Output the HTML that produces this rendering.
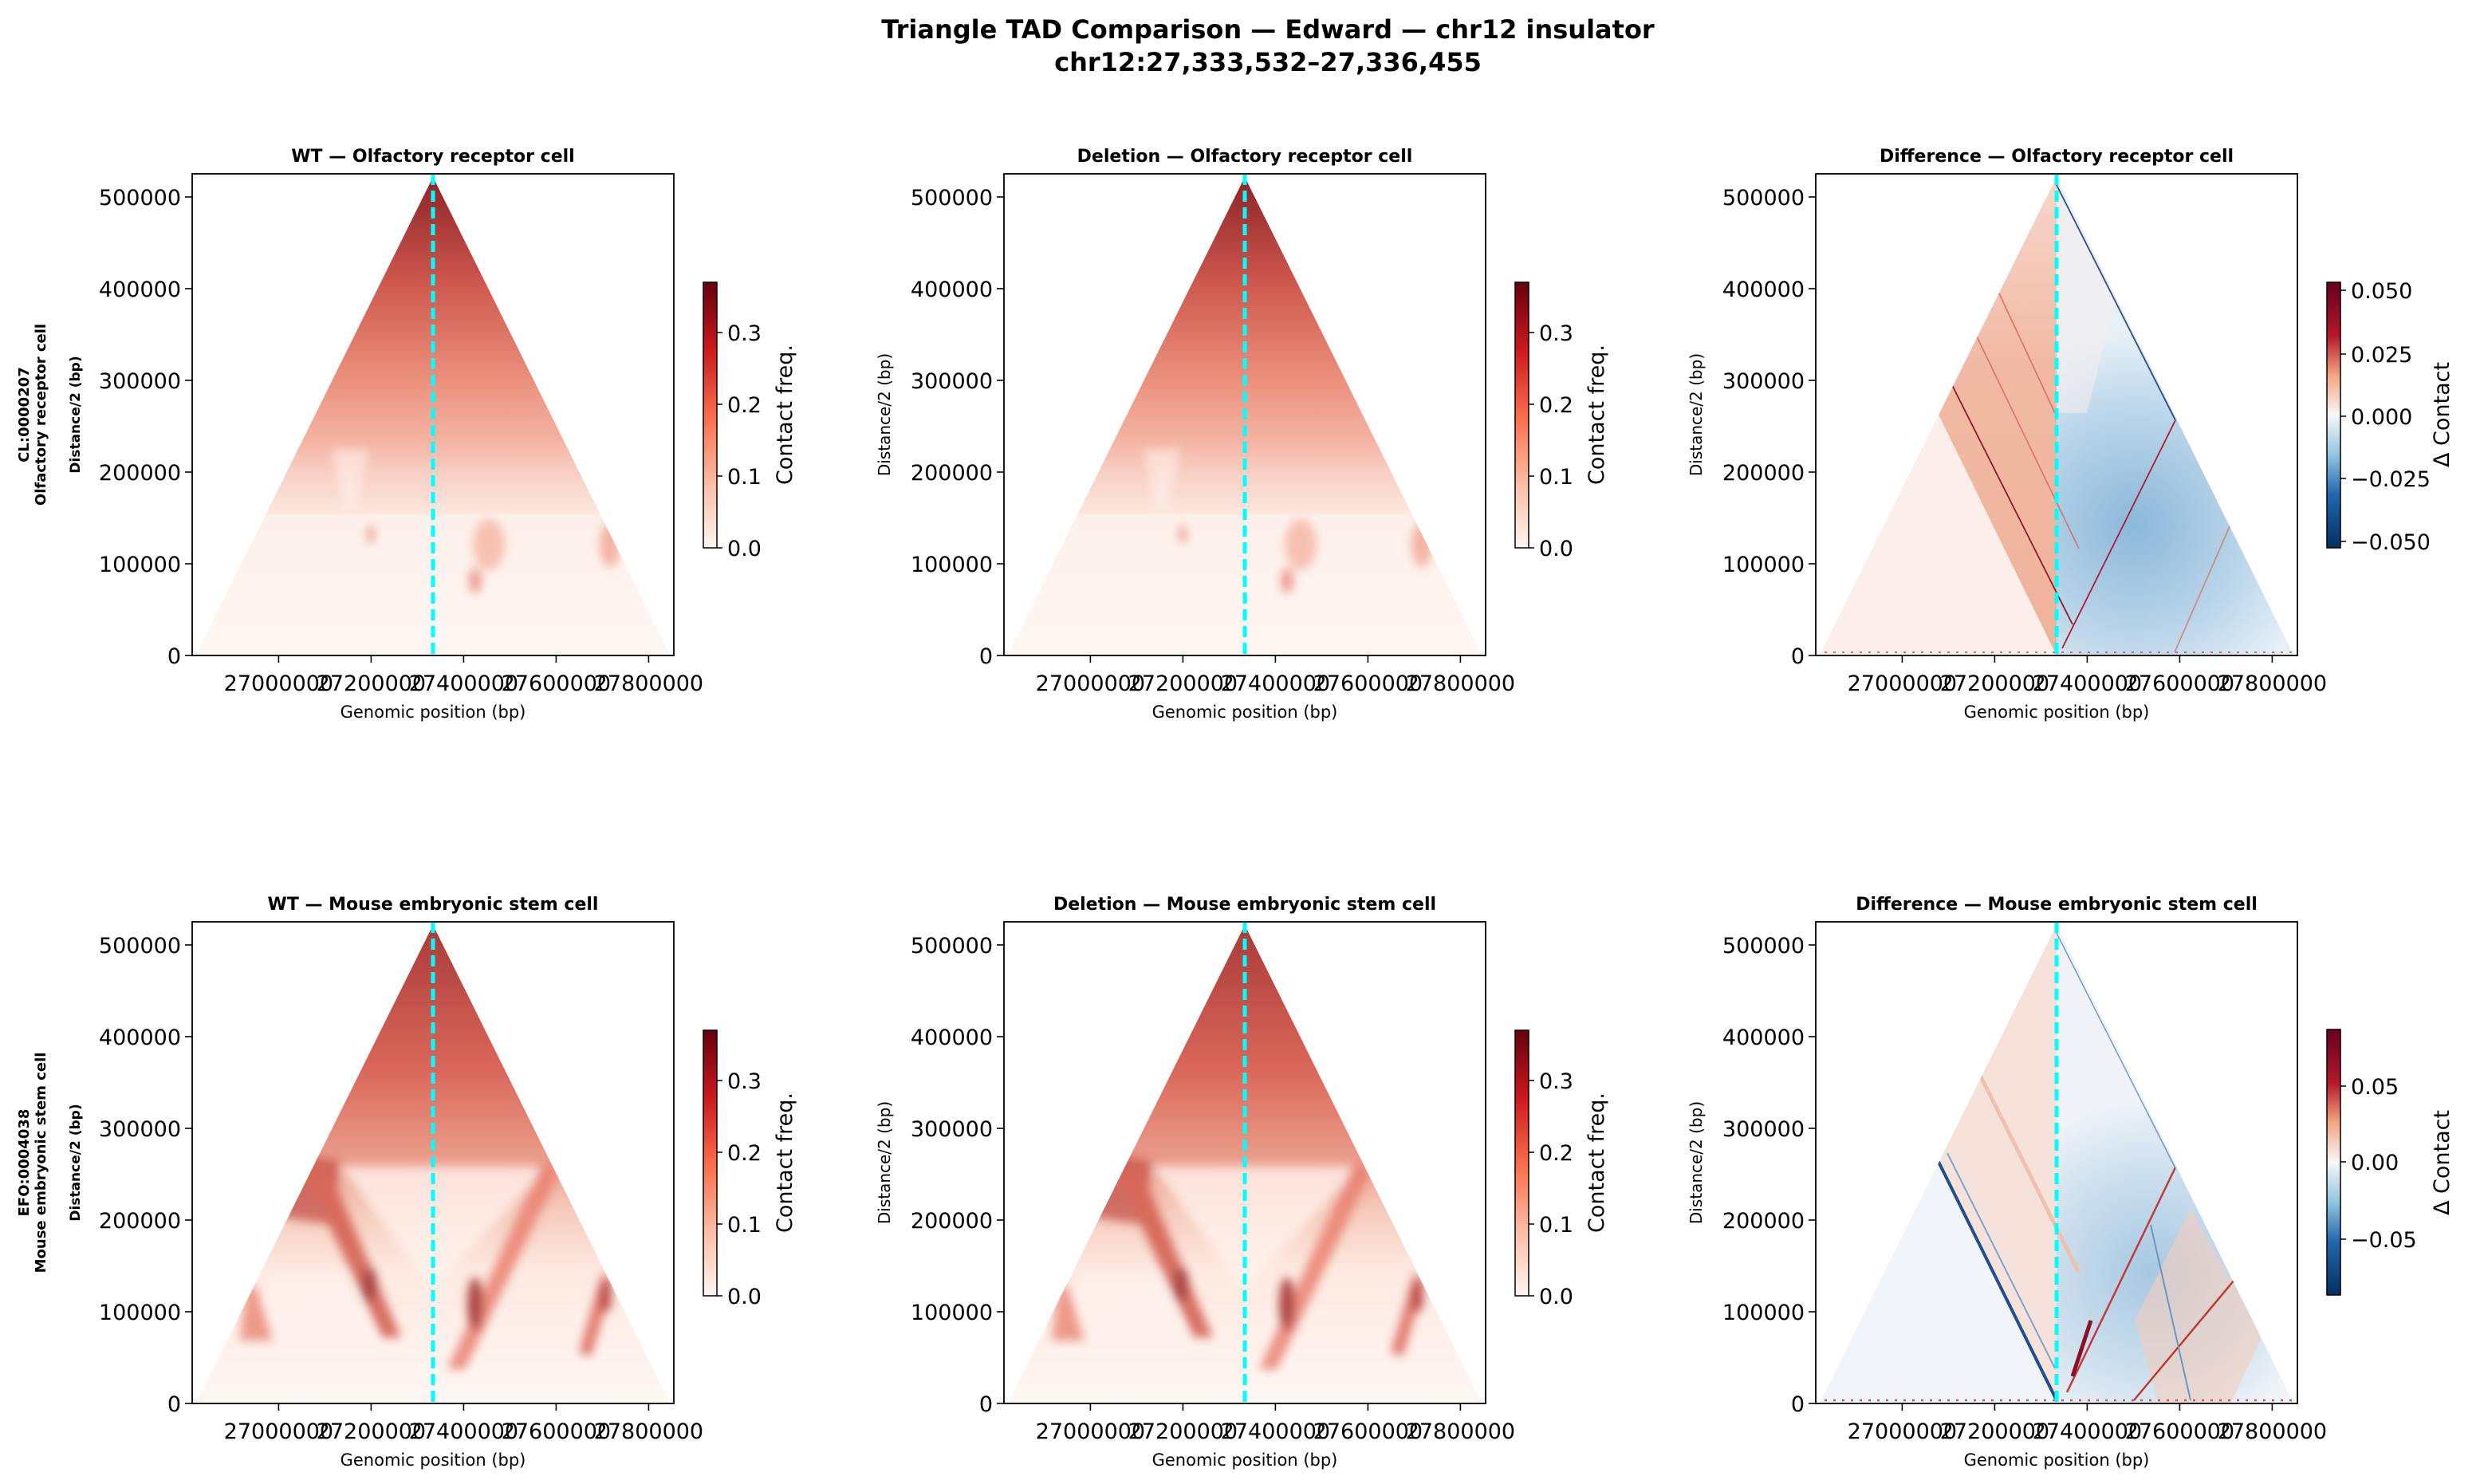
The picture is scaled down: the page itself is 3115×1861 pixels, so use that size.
<!DOCTYPE html>
<html><head><meta charset="utf-8"><style>
html,body{margin:0;padding:0;background:#fff}
svg{display:block}
text{font-family:"DejaVu Sans","Liberation Sans",sans-serif;fill:#000}
.tk{font-size:27px}
.ttl{font-size:22px;font-weight:bold}
.xl{font-size:21px}
.rl{font-size:18px;font-weight:bold}
</style></head><body>
<svg width="3115" height="1861" viewBox="0 0 3115 1861" xmlns="http://www.w3.org/2000/svg">
<defs>
<clipPath id="tri"><path d="M4.5,604 L302,4 L599.5,604 Z"/></clipPath>
<linearGradient id="gO" x1="0" y1="0" x2="0" y2="1">
<stop offset="0" stop-color="#8e2226"/><stop offset="0.23" stop-color="#cf5a50"/>
<stop offset="0.42" stop-color="#eb8f7c"/><stop offset="0.55" stop-color="#f4b3a2"/>
<stop offset="0.617" stop-color="#f8cfc3"/><stop offset="0.70" stop-color="#fce6de"/>
<stop offset="0.71" stop-color="#fdf0ea"/><stop offset="1" stop-color="#fef7f4"/>
</linearGradient>
<linearGradient id="gM" x1="0" y1="0" x2="0" y2="1">
<stop offset="0" stop-color="#a83a38"/><stop offset="0.3" stop-color="#d9675a"/>
<stop offset="0.48" stop-color="#ea9a88"/><stop offset="0.6" stop-color="#f6cbbd"/>
<stop offset="0.72" stop-color="#fde9e1"/><stop offset="1" stop-color="#fef7f4"/>
</linearGradient>
<linearGradient id="gReds" x1="0" y1="1" x2="0" y2="0">
<stop offset="0" stop-color="#fff5f0"/><stop offset="0.25" stop-color="#fcbba1"/>
<stop offset="0.5" stop-color="#fb6a4a"/><stop offset="0.75" stop-color="#cb181d"/>
<stop offset="1" stop-color="#67000d"/>
</linearGradient>
<linearGradient id="gRdBu" x1="0" y1="1" x2="0" y2="0">
<stop offset="0" stop-color="#053061"/><stop offset="0.2" stop-color="#2166ac"/>
<stop offset="0.35" stop-color="#92c5de"/><stop offset="0.5" stop-color="#f7f7f7"/>
<stop offset="0.65" stop-color="#f4a582"/><stop offset="0.8" stop-color="#b2182b"/>
<stop offset="1" stop-color="#67001f"/>
</linearGradient>
<radialGradient id="gBlue1" cx="400" cy="440" r="240" gradientUnits="userSpaceOnUse">
<stop offset="0" stop-color="#8cb8da"/><stop offset="0.6" stop-color="#bcd6ea"/><stop offset="1" stop-color="#e8f0f6"/>
</radialGradient>
<radialGradient id="gBlue2" cx="420" cy="440" r="220" gradientUnits="userSpaceOnUse">
<stop offset="0" stop-color="#a7c8e2"/><stop offset="0.6" stop-color="#cfe0ee"/><stop offset="1" stop-color="#f0f4f8"/>
</radialGradient>
<linearGradient id="gRedD" x1="0" y1="0" x2="0" y2="1">
<stop offset="0" stop-color="#f6d7cb"/><stop offset="0.4" stop-color="#f1b9a3"/><stop offset="1" stop-color="#f0b39c"/>
</linearGradient>
<filter id="bl"><feGaussianBlur stdDeviation="6"/></filter>

<g id="olf">
<g clip-path="url(#tri)">
<rect x="0" y="4" width="604" height="600" fill="url(#gO)"/>
<g filter="url(#bl)" opacity="0.7">
<polygon points="175,345 222,345 205,420 190,420" fill="#fff3ee" opacity="0.8"/>
<ellipse cx="224" cy="452" rx="4" ry="12" fill="#e06a58"/>
<ellipse cx="372" cy="465" rx="20" ry="32" fill="#f4ac99"/>
<ellipse cx="355" cy="510" rx="8" ry="16" fill="#e8786a"/>
<ellipse cx="524" cy="465" rx="13" ry="28" fill="#f19a85"/>
</g>
</g>
</g>

<g id="mes">
<g clip-path="url(#tri)">
<rect x="0" y="4" width="604" height="600" fill="url(#gM)"/>
<g filter="url(#bl)" opacity="0.85">
<polygon points="186,307 447,307 301,461" fill="#fff3ee" opacity="0.9"/>
<polygon points="100,440 190,440 230,520 60,520" fill="#fff3ee" opacity="0.8"/>
<polygon points="125,290 186,300 175,380 110,370" fill="#c0453f" opacity="0.8"/>
<polygon points="137,307 170,307 262,521 238,521" fill="#d25a4c"/>
<ellipse cx="222" cy="455" rx="10" ry="22" fill="#9c2a2a"/>
<polygon points="440,300 462,310 342,561 320,561" fill="#e98070"/>
<ellipse cx="355" cy="480" rx="10" ry="34" fill="#a02628"/>
<polygon points="515,440 528,450 500,545 485,540" fill="#dd6454"/>
<ellipse cx="518" cy="470" rx="8" ry="20" fill="#b03232"/>
<polygon points="68,455 82,460 102,525 60,525" fill="#ea8a78"/>
</g>
</g>
</g>

<g id="cyan"><line x1="302" y1="0" x2="302" y2="604" stroke="#00ffff" stroke-width="5" stroke-dasharray="14,7"/></g>

<g id="xaxis">
<g stroke="#000" stroke-width="1.6">
<line x1="108.4" y1="604" x2="108.4" y2="613"/><line x1="224.4" y1="604" x2="224.4" y2="613"/>
<line x1="340.4" y1="604" x2="340.4" y2="613"/><line x1="456.4" y1="604" x2="456.4" y2="613"/>
<line x1="572.4" y1="604" x2="572.4" y2="613"/>
<line x1="0" y1="604" x2="-9" y2="604"/><line x1="0" y1="489" x2="-9" y2="489"/>
<line x1="0" y1="374" x2="-9" y2="374"/><line x1="0" y1="259" x2="-9" y2="259"/>
<line x1="0" y1="144" x2="-9" y2="144"/><line x1="0" y1="29" x2="-9" y2="29"/>
</g>
<g class="tk" text-anchor="middle">
<text x="108.4" y="648">27000000</text><text x="224.4" y="648">27200000</text>
<text x="340.4" y="648">27400000</text><text x="456.4" y="648">27600000</text>
<text x="572.4" y="648">27800000</text>
</g>
<g class="tk" text-anchor="end">
<text x="-14" y="614">0</text><text x="-14" y="499">100000</text><text x="-14" y="384">200000</text>
<text x="-14" y="269">300000</text><text x="-14" y="154">400000</text><text x="-14" y="39">500000</text>
</g>
<text class="xl" x="302" y="682" text-anchor="middle">Genomic position (bp)</text>
<rect x="0" y="0" width="604" height="604" fill="none" stroke="#000" stroke-width="1.8"/>
</g>

<g id="cbR">
<rect x="641" y="136" width="17" height="333" fill="url(#gReds)" stroke="#000" stroke-width="1.5"/>
<g stroke="#000" stroke-width="1.5">
<line x1="658" y1="469" x2="665" y2="469"/><line x1="658" y1="379" x2="665" y2="379"/>
<line x1="658" y1="289" x2="665" y2="289"/><line x1="658" y1="199" x2="665" y2="199"/>
</g>
<g class="tk"><text x="671" y="479">0.0</text><text x="671" y="389">0.1</text><text x="671" y="299">0.2</text><text x="671" y="209">0.3</text></g>
<text class="tk" transform="translate(752,302) rotate(-90)" text-anchor="middle">Contact freq.</text>
</g>
</defs>

<text x="1590" y="48" text-anchor="middle" style="font-size:32px;font-weight:bold">Triangle TAD Comparison — Edward — chr12 insulator</text>
<text x="1590" y="89" text-anchor="middle" style="font-size:32px;font-weight:bold">chr12:27,333,532–27,336,455</text>

<!-- Row 1 -->
<g transform="translate(241,218)">
<use href="#olf"/><use href="#cyan"/><use href="#xaxis"/><use href="#cbR"/>
<text class="ttl" x="302" y="-15" text-anchor="middle">WT — Olfactory receptor cell</text>
</g>
<text class="rl" transform="translate(36,520) rotate(-90)" text-anchor="middle">CL:0000207</text>
<text class="rl" transform="translate(57,520) rotate(-90)" text-anchor="middle">Olfactory receptor cell</text>
<text transform="translate(100,520) rotate(-90)" text-anchor="middle" style="font-size:17px;font-weight:bold">Distance/2 (bp)</text>

<g transform="translate(1259,218)">
<use href="#olf"/><use href="#cyan"/><use href="#xaxis"/><use href="#cbR"/>
<text class="ttl" x="302" y="-15" text-anchor="middle">Deletion — Olfactory receptor cell</text>
<text transform="translate(-143,302) rotate(-90)" text-anchor="middle" style="font-size:20px">Distance/2 (bp)</text>
</g>

<g transform="translate(2277,218)">
<g clip-path="url(#tri)">
<rect x="0" y="0" width="604" height="604" fill="#fcefea"/>
<polygon points="153,300 302,4 302,604" fill="url(#gRedD)"/>
<polygon points="302,4 599.5,604 302,604" fill="url(#gBlue1)"/>
<polygon points="302,4 380,140 340,300 302,300" fill="#f3ecee" opacity="0.6"/>
<g stroke-width="1.8" fill="none">
<line x1="170" y1="263" x2="322" y2="565" stroke="#8b1a2a"/>
<line x1="200" y1="200" x2="330" y2="470" stroke="#d0604f" opacity="0.7"/>
<line x1="230" y1="150" x2="300" y2="300" stroke="#d35a4a" opacity="0.7"/>
<line x1="302" y1="14" x2="451" y2="309" stroke="#2a4f8a"/>
<line x1="451" y1="309" x2="309" y2="595" stroke="#b2182b"/>
<line x1="380" y1="120" x2="560" y2="500" stroke="#5a8cbf" opacity="0.7"/>
<line x1="520" y1="440" x2="450" y2="600" stroke="#d2705c" opacity="0.7"/>
<line x1="0" y1="600" x2="604" y2="600" stroke="#c85a60" stroke-dasharray="3,8"/>
</g>
</g>
<use href="#cyan"/><use href="#xaxis"/>
<text class="ttl" x="302" y="-15" text-anchor="middle">Difference — Olfactory receptor cell</text>
<text transform="translate(-143,302) rotate(-90)" text-anchor="middle" style="font-size:20px">Distance/2 (bp)</text>
<rect x="641" y="136" width="17" height="333" fill="url(#gRdBu)" stroke="#000" stroke-width="1.5"/>
<g stroke="#000" stroke-width="1.5">
<line x1="658" y1="146" x2="665" y2="146"/><line x1="658" y1="226" x2="665" y2="226"/>
<line x1="658" y1="304" x2="665" y2="304"/><line x1="658" y1="382" x2="665" y2="382"/>
<line x1="658" y1="461" x2="665" y2="461"/>
</g>
<g class="tk"><text x="671" y="156">0.050</text><text x="671" y="236">0.025</text><text x="671" y="314">0.000</text><text x="671" y="392">−0.025</text><text x="671" y="471">−0.050</text></g>
<text class="tk" transform="translate(794,302) rotate(-90)" text-anchor="middle">Δ Contact</text>
</g>

<!-- Row 2 -->
<g transform="translate(241,1156)">
<use href="#mes"/><use href="#cyan"/><use href="#xaxis"/><use href="#cbR"/>
<text class="ttl" x="302" y="-15" text-anchor="middle">WT — Mouse embryonic stem cell</text>
</g>
<text class="rl" transform="translate(36,1458) rotate(-90)" text-anchor="middle">EFO:0004038</text>
<text class="rl" transform="translate(57,1458) rotate(-90)" text-anchor="middle">Mouse embryonic stem cell</text>
<text transform="translate(100,1458) rotate(-90)" text-anchor="middle" style="font-size:17px;font-weight:bold">Distance/2 (bp)</text>

<g transform="translate(1259,1156)">
<use href="#mes"/><use href="#cyan"/><use href="#xaxis"/><use href="#cbR"/>
<text class="ttl" x="302" y="-15" text-anchor="middle">Deletion — Mouse embryonic stem cell</text>
<text transform="translate(-143,302) rotate(-90)" text-anchor="middle" style="font-size:20px">Distance/2 (bp)</text>
</g>

<g transform="translate(2277,1156)">
<g clip-path="url(#tri)">
<rect x="0" y="0" width="604" height="604" fill="#f1f5f9"/>
<polygon points="153,299 302,4 302,604" fill="#f6e2da"/>
<polygon points="302,4 599.5,604 302,604" fill="url(#gBlue2)"/>
<polygon points="400,500 470,360 560,520 520,604 430,604" fill="#f3cdbd" opacity="0.6"/>
<g fill="none">
<line x1="153" y1="299" x2="302" y2="600" stroke="#1f4f8c" stroke-width="4"/>
<line x1="165" y1="290" x2="300" y2="560" stroke="#7aa6cf" stroke-width="2"/>
<line x1="200" y1="180" x2="330" y2="440" stroke="#eec0ae" stroke-width="5"/>
<line x1="315" y1="590" x2="451" y2="308" stroke="#c23a3a" stroke-width="2.5"/>
<line x1="322" y1="570" x2="345" y2="500" stroke="#8b0f25" stroke-width="5"/>
<line x1="525" y1="449" x2="399" y2="600" stroke="#c0392f" stroke-width="2.5"/>
<line x1="302" y1="14" x2="451" y2="309" stroke="#6f9cc8" stroke-width="1.5"/>
<line x1="420" y1="380" x2="470" y2="600" stroke="#6a98c6" stroke-width="2"/>
<line x1="0" y1="600" x2="604" y2="600" stroke="#c85a60" stroke-dasharray="3,8" stroke-width="2.5"/>
</g>
</g>
<use href="#cyan"/><use href="#xaxis"/>
<text class="ttl" x="302" y="-15" text-anchor="middle">Difference — Mouse embryonic stem cell</text>
<text transform="translate(-143,302) rotate(-90)" text-anchor="middle" style="font-size:20px">Distance/2 (bp)</text>
<rect x="641" y="135" width="17" height="333" fill="url(#gRdBu)" stroke="#000" stroke-width="1.5"/>
<g stroke="#000" stroke-width="1.5">
<line x1="658" y1="206" x2="665" y2="206"/><line x1="658" y1="301" x2="665" y2="301"/>
<line x1="658" y1="398" x2="665" y2="398"/>
</g>
<g class="tk"><text x="671" y="216">0.05</text><text x="671" y="311">0.00</text><text x="671" y="408">−0.05</text></g>
<text class="tk" transform="translate(794,302) rotate(-90)" text-anchor="middle">Δ Contact</text>
</g>
</svg>
</body></html>
